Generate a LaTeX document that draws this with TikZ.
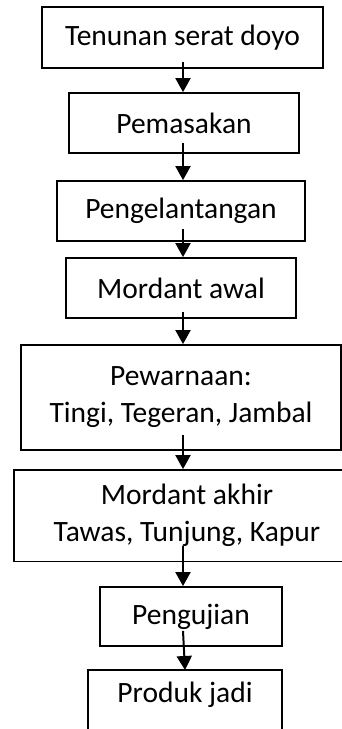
\documentclass[tikz,border=0pt]{standalone}
\usepackage{fontspec}
\setmainfont{Carlito}
\usetikzlibrary{arrows.meta}
\begin{document}
\begin{tikzpicture}[x=1pt,y=1pt,
  stepbox/.style={draw, line width=1.8pt, inner sep=0pt, align=center,
    font=\fontsize{29.5}{37}\selectfont},
  textonly/.style={inner sep=0pt, align=center, font=\fontsize{29.5}{37}\selectfont},
  frame/.style={line width=1.8pt},
  flow/.style={line width=2pt, -{Triangle[width=15pt,length=14pt]}}]
\useasboundingbox (0,0) rectangle (342,729);
\node[stepbox, minimum width=281pt, minimum height=61pt] (b1) at (182.5,691.5) {Tenunan serat doyo};
\node[stepbox, minimum width=230pt, minimum height=60pt] (b2) at (184,606) {Pemasakan};
\node[stepbox, minimum width=248pt, minimum height=60pt] (b3) at (181,518) {Pengelantangan};
\node[stepbox, minimum width=230pt, minimum height=60pt] (b4) at (181,441) {Mordant awal};
\node[stepbox, minimum width=320pt, minimum height=105pt] (b5) at (181,331.5) {Pewarnaan:\\Tingi, Tegeran, Jambal};
\node[stepbox, minimum width=346pt, minimum height=91.5pt] (b6) at (187,213.25) {Mordant akhir\\Tawas, Tunjung, Kapur};
\node[stepbox, minimum width=182pt, minimum height=59pt] (b7) at (191,112.5) {Pengujian};
\node[textonly, anchor=base] (b8) at (185,26) {Produk jadi};
\coordinate (b8n) at (185,59);
\coordinate (b8nw) at (88,59);
\coordinate (b8ne) at (282,59);
\coordinate (b8sw) at (88,-5);
\coordinate (b8se) at (282,-5);
\draw[frame] (b8sw) -- (b8nw) -- (b8ne) -- (b8se);
\coordinate (ax) at (183,0);
\draw[flow] ([yshift=7pt]b1.south -| ax) -- (b2.north -| ax);
\draw[flow] ([yshift=11pt]b2.south -| ax) -- (b3.north -| ax);
\draw[flow] ([yshift=13pt]b3.south -| ax) -- (b4.north -| ax);
\draw[flow] ([yshift=7pt]b4.south -| ax) -- (b5.north -| ax);
\draw[flow] ([yshift=16pt]b5.south -| ax) -- (b6.north -| ax);
\draw[flow] ([yshift=16pt]b6.south -| ax) -- (b7.north -| ax);
\draw[flow] ([yshift=16pt]b7.south -| ax) -- (b8n);
\end{tikzpicture}
\end{document}
